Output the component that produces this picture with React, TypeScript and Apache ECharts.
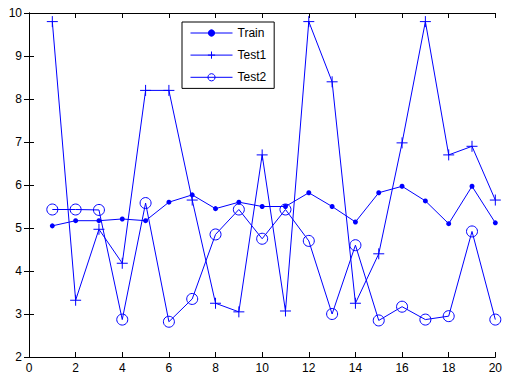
import React, { useEffect, useRef } from "react";
import * as echarts from "echarts";

const xValues = [1, 2, 3, 4, 5, 6, 7, 8, 9, 10, 11, 12, 13, 14, 15, 16, 17, 18, 19, 20];
const trainValues = [5.05, 5.17, 5.17, 5.21, 5.17, 5.6, 5.77, 5.45, 5.6, 5.5, 5.5, 5.82, 5.5, 5.14, 5.82, 5.97, 5.63, 5.1, 5.97, 5.12];
const test1Values = [9.8, 3.32, 4.97, 4.18, 8.2, 8.2, 5.65, 3.25, 3.05, 6.7, 3.07, 9.8, 8.4, 3.25, 4.4, 6.98, 9.8, 6.7, 6.9, 5.65];
const test2Values = [5.43, 5.43, 5.42, 2.87, 5.58, 2.82, 3.35, 4.85, 5.43, 4.75, 5.43, 4.7, 3.0, 4.6, 2.85, 3.17, 2.87, 2.95, 4.92, 2.87];
const seriesNames = ["Train", "Test1", "Test2"];

const pair = (vals: number[]) => xValues.map((x, i) => [x, vals[i]]);

export default function App() {
  const ref = useRef<HTMLDivElement>(null);
  useEffect(() => {
    if (!ref.current) return;
    const chart = echarts.init(ref.current, undefined, { renderer: "svg" });
    const blue = "#0000ff";
    const font = "Liberation Sans, Arial, sans-serif";
    const axisCommon = {
      axisLine: { show: true, lineStyle: { color: "#000", width: 1 } },
      axisTick: { show: true, inside: true, length: 5, lineStyle: { color: "#000" } },
      splitLine: { show: false },
    };
    chart.setOption({
      animation: false,
      backgroundColor: "#fff",
      textStyle: { fontFamily: font },
      grid: { left: 29, right: 8, top: 13, bottom: 19, containLabel: false },
      legend: {
        orient: "vertical",
        left: 182,
        top: 22,
        data: [
          { name: seriesNames[0], itemStyle: { borderWidth: 0 } },
          { name: seriesNames[1], itemStyle: { borderWidth: 1 } },
          { name: seriesNames[2], itemStyle: { borderWidth: 1 } },
        ],
        borderColor: "#000",
        borderWidth: 1,
        backgroundColor: "#fff",
        padding: [5, 8, 5, 8],
        itemWidth: 42,
        itemHeight: 9,
        itemGap: 10,
        lineStyle: { width: 1 },
        textStyle: { color: "#000", fontSize: 12, fontFamily: font },
      },
      xAxis: [
        {
          type: "value",
          min: 0,
          max: 20,
          interval: 2,
          ...axisCommon,
          axisLabel: { color: "#000", fontSize: 12, margin: 5, fontFamily: font },
        },
        {
          type: "value",
          position: "top",
          min: 0,
          max: 20,
          interval: 2,
          ...axisCommon,
          axisLabel: { show: false },
        },
      ],
      yAxis: [
        {
          type: "value",
          min: 2,
          max: 10,
          interval: 1,
          ...axisCommon,
          axisLabel: { color: "#000", fontSize: 12, margin: 7, fontFamily: font },
        },
        {
          type: "value",
          position: "right",
          min: 2,
          max: 10,
          interval: 1,
          ...axisCommon,
          axisLabel: { show: false },
        },
      ],
      series: [
        {
          name: "Train",
          type: "line",
          data: pair(trainValues),
          symbol: "circle",
          symbolSize: 5,
          lineStyle: { color: blue, width: 1 },
          itemStyle: { color: blue },
        },
        {
          name: "Test1",
          type: "line",
          data: pair(test1Values),
          symbol: "path://M0,5L10,5M5,0L5,10",
          symbolSize: 11,
          lineStyle: { color: blue, width: 1 },
          itemStyle: { color: "none", borderColor: blue, borderWidth: 1 },
        },
        {
          name: "Test2",
          type: "line",
          data: pair(test2Values),
          symbol: "circle",
          symbolSize: 11,
          lineStyle: { color: blue, width: 1 },
          itemStyle: { color: "none", borderColor: blue, borderWidth: 1 },
        },
      ],
    });
    return () => chart.dispose();
  }, []);
  return <div ref={ref} style={{ width: 505, height: 376, position: "absolute", left: 0, top: 0 }} />;
}
